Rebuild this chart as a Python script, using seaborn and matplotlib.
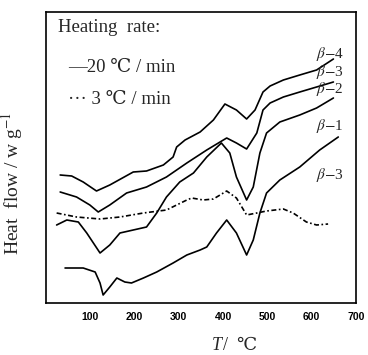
import numpy as np
import pandas as pd
import seaborn as sns
import matplotlib
matplotlib.use('Agg')
import matplotlib.pyplot as plt

# DSC traces (temperature in C, heat flow in arbitrary units)
t_b4 = [32, 58, 84, 114, 144, 197, 227, 265, 287, 295, 314, 348, 378, 404, 430, 453, 472, 490, 506, 536, 573, 611, 649]
hf_b4 = [128, 127, 121, 112, 118, 131, 132, 138, 146, 156, 163, 171, 183, 199, 193, 184, 193, 211, 217, 223, 228, 233, 244]

t_b3 = [32, 69, 99, 118, 144, 182, 227, 272, 318, 363, 408, 430, 453, 476, 490, 506, 536, 573, 611, 649]
hf_b3 = [111, 106, 98, 91, 98, 110, 116, 126, 140, 153, 165, 160, 154, 170, 193, 200, 206, 211, 216, 221]

t_b2 = [24, 47, 73, 92, 122, 144, 167, 197, 227, 250, 272, 302, 333, 363, 396, 415, 430, 453, 468, 483, 498, 528, 573, 611, 649]
hf_b2 = [78, 83, 81, 70, 50, 58, 70, 73, 76, 90, 106, 121, 130, 146, 160, 150, 126, 103, 116, 150, 170, 181, 188, 195, 205]

t_b1 = [43, 84, 111, 122, 129, 144, 160, 178, 193, 220, 250, 287, 318, 348, 363, 385, 408, 430, 453, 468, 483, 498, 528, 573, 618, 660]
hf_b1 = [35, 35, 31, 20, 8, 16, 25, 21, 20, 25, 31, 40, 48, 53, 56, 70, 83, 70, 48, 63, 90, 110, 123, 136, 153, 166]

t_b3_slow = [24, 69, 122, 167, 220, 272, 318, 329, 355, 378, 408, 430, 453, 476, 498, 536, 558, 588, 611, 637]
hf_b3_slow = [90, 86, 84, 86, 90, 93, 103, 105, 103, 104, 112, 105, 88, 90, 92, 94, 90, 81, 78, 79]

x_ticks = [100, 200, 300, 400, 500, 600, 700]
curve_labels = [r'$\beta$$-$4', r'$\beta$$-$3', r'$\beta$$-$2', r'$\beta$$-$1', r'$\beta$$-$3']
label_y = [249, 231, 214, 177, 128]

sns.set_style('white')
plt.rcParams['font.family'] = ['Liberation Serif', 'DejaVu Serif']
plt.rcParams['mathtext.fontset'] = 'stix'

fig = plt.figure(figsize=(3.68, 3.55), dpi=100)
ax = fig.add_axes([46/368, 52/355, 310/368, 291/355])

solid = [(t_b4, hf_b4), (t_b3, hf_b3), (t_b2, hf_b2), (t_b1, hf_b1)]
for t, hf in solid:
    sns.lineplot(x=t, y=hf, ax=ax, color='black', lw=1.2, sort=False, estimator=None)
sns.lineplot(x=t_b3_slow, y=hf_b3_slow, ax=ax, color='black', lw=1.2, sort=False,
             estimator=None, linestyle=(0, (3, 1.5, 1, 1.5)))

ax.set_xlim(0, 700)
ax.set_ylim(0, 291)
ax.set_xticks(x_ticks)
ax.set_xticklabels([str(v) for v in x_ticks], fontsize=7.5, fontweight='bold',
                   family=['Liberation Sans', 'DejaVu Sans'])
ax.set_yticks(np.arange(23, 270, 27))
ax.set_yticklabels([])
ax.tick_params(direction='out', length=2.5, width=1, pad=4, colors='black')
for s in ax.spines.values():
    s.set_color('black')
    s.set_linewidth(1.2)

ax.set_ylabel(r'Heat  flow / w g$^{-1}$', fontsize=14)
ax.yaxis.set_label_coords(-0.068, 0.41)

# x label: italic T followed by the unit
fig.text(222/368, 1 - 345/355, 'T', fontsize=13, style='italic', ha='right', va='center')
fig.text(223/368, 1 - 345/355, '/  ℃', fontsize=13, ha='left', va='center')

# legend written as plain text in the corner
ax.text(27, 276, 'Heating  rate:', fontsize=13.5, va='center', ha='left')
ax.text(50, 236, '—20 ℃ / min', fontsize=13.5, va='center', ha='left')
ax.text(50, 203, '··· 3 ℃ / min', fontsize=13.5, va='center', ha='left')

for lab, yy in zip(curve_labels, label_y):
    ax.text(609, yy, lab, fontsize=11, va='center', ha='left')

fig.savefig('out.png', dpi=100)
